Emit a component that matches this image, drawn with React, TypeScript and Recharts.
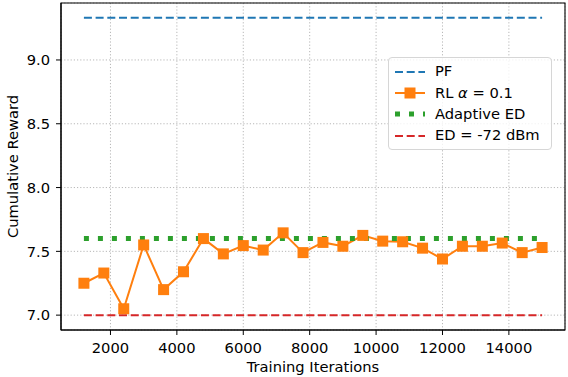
import React from "react";
import {
  LineChart,
  Line,
  XAxis,
  YAxis,
  CartesianGrid,
  Legend,
  ReferenceArea,
} from "recharts";

const iterations = [
  1200, 1800, 2400, 3000, 3600, 4200, 4800, 5400, 6000, 6600, 7200, 7800,
  8400, 9000, 9600, 10200, 10800, 11400, 12000, 12600, 13200, 13800, 14400,
  15000,
];
const rlReward = [
  7.25, 7.33, 7.05, 7.55, 7.2, 7.34, 7.6, 7.48, 7.545, 7.51, 7.645, 7.49,
  7.57, 7.54, 7.625, 7.58, 7.575, 7.525, 7.44, 7.54, 7.54, 7.565, 7.49, 7.53,
];
const PF_REWARD = 9.33;
const ADAPTIVE_ED_REWARD = 7.6;
const ED_REWARD = 7.0;

const xTicks = [2000, 4000, 6000, 8000, 10000, 12000, 14000];
const yTicks = [7.0, 7.5, 8.0, 8.5, 9.0];
const xDomain: [number, number] = [510, 15690];
const yDomain: [number, number] = [6.8835, 9.4465];

const data = iterations.map((it, i) => ({
  it,
  pf: PF_REWARD,
  rl: rlReward[i],
  adaptive: ADAPTIVE_ED_REWARD,
  ed: ED_REWARD,
}));

const FONT = "DejaVu Sans, sans-serif";
const FS = 14.7;
const BLUE = "#1f77b4";
const ORANGE = "#ff7f0e";
const GREEN = "#2ca02c";
const RED = "#d62728";

const SquareDot = (p: any) => {
  if (p.cx == null || p.cy == null) return <g key={p.key} />;
  return (
    <rect
      key={p.key}
      x={p.cx - 5.5}
      y={p.cy - 5.5}
      width={11}
      height={11}
      fill={ORANGE}
    />
  );
};

const LegendContent = () => {
  const row = (sample: React.ReactNode, label: React.ReactNode) => (
    <div
      style={{
        display: "flex",
        alignItems: "center",
        height: 21.3,
      }}
    >
      <svg width={30} height={14} style={{ marginLeft: 6, marginRight: 10 }}>
        {sample}
      </svg>
      <span style={{ whiteSpace: "nowrap" }}>{label}</span>
    </div>
  );
  return (
    <div
      style={{
        boxSizing: "border-box",
        width: 164,
        height: 93,
        border: "1px solid #d6d6d6",
        borderRadius: 4,
        background: "rgba(255,255,255,0.8)",
        fontFamily: FONT,
        fontSize: FS,
        color: "#000",
        paddingTop: 3,
        lineHeight: 1,
      }}
    >
      {row(
        <line x1={0} x2={30} y1={7} y2={7} stroke={BLUE} strokeWidth={2} strokeDasharray="8 3.7" />,
        "PF"
      )}
      {row(
        <g>
          <line x1={0} x2={30} y1={7} y2={7} stroke={ORANGE} strokeWidth={2} />
          <rect x={9.5} y={1.5} width={11} height={11} fill={ORANGE} />
        </g>,
        <span>
          RL <i>α</i> = 0.1
        </span>
      )}
      {row(
        <line x1={0} x2={30} y1={7} y2={7} stroke={GREEN} strokeWidth={5} strokeDasharray="5 9" />,
        "Adaptive ED"
      )}
      {row(
        <line x1={0} x2={30} y1={7} y2={7} stroke={RED} strokeWidth={2} strokeDasharray="8 3.7" />,
        "ED = -72 dBm"
      )}
    </div>
  );
};

export default function App() {
  return (
    <div style={{ position: "absolute", left: 0, top: 0, background: "#fff" }}>
      <LineChart
        width={568}
        height={377}
        data={data}
        margin={{ top: 3, right: 3, left: 0, bottom: 0 }}
        style={{ fontFamily: FONT }}
      >
        <CartesianGrid
          stroke="#b0b0b0"
          strokeDasharray="1.2 2"
          strokeWidth={0.9}
        />
        <XAxis
          dataKey="it"
          type="number"
          domain={xDomain}
          ticks={xTicks}
          allowDataOverflow
          height={47}
          tickSize={5}
          tickMargin={7.5}
          tick={{ fill: "#000", fontSize: FS, fontFamily: FONT }}
          stroke="#000"
          tickLine={{ stroke: "#000" }}
          axisLine={{ stroke: "#000", strokeWidth: 1.1 }}
          label={{
            value: "Training Iterations",
            position: "insideBottom",
            offset: 5,
            fill: "#000",
            fontSize: FS,
            fontFamily: FONT,
            style: { fill: "#000", fontSize: FS, fontFamily: FONT },
          }}
        />
        <YAxis
          type="number"
          domain={yDomain}
          ticks={yTicks}
          allowDataOverflow
          width={61}
          tickSize={5}
          tickMargin={6}
          tickFormatter={(v: number) => v.toFixed(1)}
          tick={{ fill: "#000", fontSize: FS, fontFamily: FONT }}
          stroke="#000"
          tickLine={{ stroke: "#000" }}
          axisLine={{ stroke: "#000", strokeWidth: 1.1 }}
          label={{
            value: "Cumulative Reward",
            angle: -90,
            position: "insideLeft",
            offset: 13,
            fill: "#000",
            fontSize: FS,
            fontFamily: FONT,
            style: {
              fill: "#000",
              fontSize: FS,
              fontFamily: FONT,
              textAnchor: "middle",
            },
          }}
        />
        <ReferenceArea
          x1={xDomain[0]}
          x2={xDomain[1]}
          y1={yDomain[0]}
          y2={yDomain[1]}
          fill="none"
          stroke="#000"
          strokeWidth={1.1}
          ifOverflow="visible"
        />
        <Line
          dataKey="pf"
          stroke={BLUE}
          strokeWidth={2}
          strokeDasharray="8 3.7"
          dot={false}
          activeDot={false}
          isAnimationActive={false}
        />
        <Line
          dataKey="rl"
          stroke={ORANGE}
          strokeWidth={2}
          dot={SquareDot}
          activeDot={false}
          isAnimationActive={false}
        />
        <Line
          dataKey="adaptive"
          stroke={GREEN}
          strokeWidth={5}
          strokeDasharray="5 9"
          dot={false}
          activeDot={false}
          isAnimationActive={false}
        />
        <Line
          dataKey="ed"
          stroke={RED}
          strokeWidth={2}
          strokeDasharray="8 3.7"
          dot={false}
          activeDot={false}
          isAnimationActive={false}
        />
        <Legend
          layout="vertical"
          align="center"
          verticalAlign="middle"
          content={LegendContent}
          wrapperStyle={{
            position: "absolute",
            left: 388,
            top: 57,
            width: 164,
            height: 93,
            margin: 0,
          }}
        />
      </LineChart>
    </div>
  );
}
